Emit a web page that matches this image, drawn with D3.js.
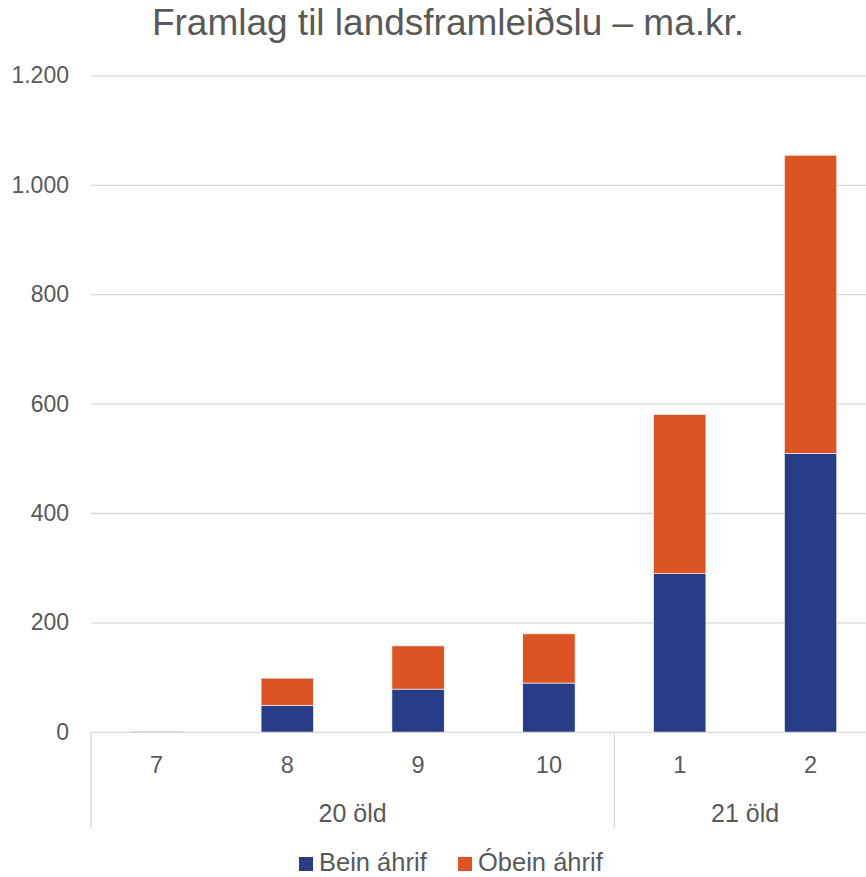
<!DOCTYPE html>
<html>
<head>
<meta charset="utf-8">
<style>
  body { margin: 0; background: #fff; }
  svg { display: block; font-family: "Liberation Sans", Arial, sans-serif; }
</style>
</head>
<body>
<svg width="866" height="877"></svg>
<script src="https://d3js.org/d3.v7.min.js"></script>
<script>

// data
var categories = ["7", "8", "9", "10", "1", "2"];
var groups = [
  {name: "20 öld", from: 0, to: 4},
  {name: "21 öld", from: 4, to: 6}
];
var beinAhrif   = [0, 49, 79, 90, 290, 510];
var obeinAhrif  = [2, 50, 79, 90, 291, 545];
var seriesNames = ["Bein áhrif", "Óbein áhrif"];
var yTicks = [0, 200, 400, 600, 800, 1000, 1200];

var colors = ["#293c88", "#dc5324"];
var textColor = "#595959";
var gridColor = "#d9d9d9";

var svg = d3.select("svg"),
  x = d3.scaleBand().domain(categories).range([91, 876]).paddingInner(0.6).paddingOuter(0.3),
  y = d3.scaleLinear().domain([0, 1200]).range([732.3, 75.9]);

var step = x.step();

// title
svg.append("text")
    .attr("x", 448)
    .attr("y", 35)
    .attr("text-anchor", "middle")
    .attr("fill", textColor)
    .style("font-size", "37px")
    .text("Framlag til landsframleiðslu – ma.kr.");

// gridlines
svg.append("g")
  .selectAll("line")
  .data(yTicks.slice(1))
  .enter().append("line")
    .attr("x1", 91).attr("x2", 866)
    .attr("y1", function(d) { return y(d); })
    .attr("y2", function(d) { return y(d); })
    .attr("stroke", gridColor)
    .attr("stroke-width", 1.3);

// y labels
svg.append("g")
  .selectAll("text")
  .data(yTicks)
  .enter().append("text")
    .attr("x", 69)
    .attr("y", function(d) { return y(d); })
    .attr("dy", "0.33em")
    .attr("text-anchor", "end")
    .attr("fill", textColor)
    .style("font-size", "23px")
    .text(function(d) { return d3.format(",")(d).replace(/,/g, "."); });

// stacked bars
var rows = categories.map(function(c, i) {
  return {cat: c, "Bein áhrif": beinAhrif[i], "Óbein áhrif": obeinAhrif[i]};
});
var stack = d3.stack().keys(seriesNames)(rows);

svg.append("g")
  .selectAll("g")
  .data(stack)
  .enter().append("g")
    .attr("fill", function(d, i) { return colors[i]; })
  .selectAll("rect")
  .data(function(d) { return d.filter(function(p) { return p[1] > p[0]; }); })
  .enter().append("rect")
    .attr("x", function(d) { return x(d.data.cat); })
    .attr("width", x.bandwidth())
    .attr("y", function(d) { return y(d[1]); })
    .attr("height", function(d) { return y(d[0]) - y(d[1]); })
    .attr("stroke", "#fff")
    .attr("stroke-width", 0.6)
    .attr("fill-opacity", function(d) { return d[1] - d[0] < 5 ? 0.55 : 1; });

// x axis line
svg.append("line")
    .attr("x1", 91).attr("x2", 866)
    .attr("y1", y(0)).attr("y2", y(0))
    .attr("stroke", gridColor)
    .attr("stroke-width", 1.3);

// category labels
svg.append("g")
  .selectAll("text")
  .data(categories)
  .enter().append("text")
    .attr("x", function(d) { return x(d) + x.bandwidth() / 2; })
    .attr("y", 773)
    .attr("text-anchor", "middle")
    .attr("fill", textColor)
    .style("font-size", "23.5px")
    .text(function(d) { return d; });

// group separators and labels
var x0 = x.range()[0];
svg.append("g")
  .selectAll("line")
  .data(groups.map(function(g) { return g.from; }))
  .enter().append("line")
    .attr("x1", function(d) { return x0 + d * step; })
    .attr("x2", function(d) { return x0 + d * step; })
    .attr("y1", y(0)).attr("y2", 828)
    .attr("stroke", gridColor)
    .attr("stroke-width", 1.3);

svg.append("g")
  .selectAll("text")
  .data(groups)
  .enter().append("text")
    .attr("x", function(d) { return x0 + (d.from + d.to) / 2 * step; })
    .attr("y", 822)
    .attr("text-anchor", "middle")
    .attr("fill", textColor)
    .style("font-size", "25px")
    .text(function(d) { return d.name; });

// legend
var legendX = [299, 458];
var legend = svg.append("g")
  .selectAll("g")
  .data(seriesNames)
  .enter().append("g")
    .attr("transform", function(d, i) { return "translate(" + legendX[i] + ",0)"; });

legend.append("rect")
    .attr("y", 857).attr("width", 14).attr("height", 14)
    .attr("fill", function(d, i) { return colors[i]; });

legend.append("text")
    .attr("x", 20).attr("y", 871)
    .attr("fill", textColor)
    .style("font-size", "25.5px")
    .text(function(d) { return d; });

</script>
</body>
</html>
